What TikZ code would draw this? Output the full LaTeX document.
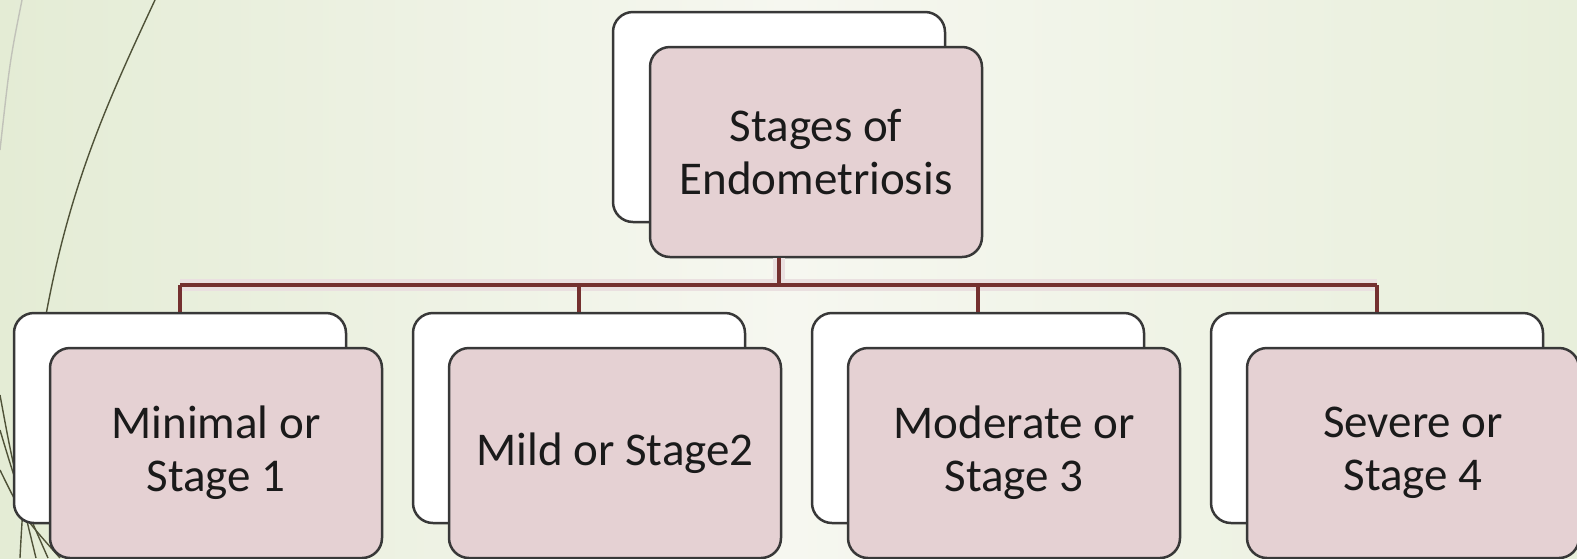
\documentclass[tikz,border=0pt]{standalone}
\usepackage{fontspec}
\usepackage{tikz}
\usetikzlibrary{positioning,calc}

\newfontfamily\carlito{Carlito}
\newcommand{\stagefont}{\carlito\fontsize{23.5pt}{26.5pt}\selectfont}

\definecolor{bgleft}{HTML}{E4ECD5}
\definecolor{bgmid}{HTML}{F6F7F0}
\definecolor{bgright}{HTML}{E8EFDB}
\definecolor{boxpink}{HTML}{E5D1D3}
\definecolor{boxline}{HTML}{383838}
\definecolor{treered}{HTML}{74302F}
\definecolor{wispline}{HTML}{4F5238}
\definecolor{textdark}{HTML}{1A1A1A}

\tikzset{
  backbox/.style={draw=boxline, line width=1.25pt, rounded corners=10pt, fill=white,
    minimum width=166pt, minimum height=105pt, inner sep=0pt},
  stagebox/.style={backbox, fill=boxpink, align=center, font=\stagefont, text=textdark},
  tree/.style={draw=treered, line width=1.8pt},
  treeglow/.style={draw=treered!15, line width=6pt},
  wisp/.style={draw=wispline, line width=0.7pt},
}

\begin{document}
\begin{tikzpicture}[x=0.5pt, y=-0.5pt]
  % background
  \shade[left color=bgleft, right color=bgright, middle color=bgmid] (0,0) rectangle (1577,558);
  \useasboundingbox (0,0) rectangle (1577,558);

  % wisps on the left
  \draw[wisp] (155,0) .. controls (85,150) and (35,260) .. (20,558);
  \draw[wisp, draw=wispline!35] (22,0) .. controls (10,60) .. (0,150);
  \draw[wisp] (0,395) .. controls (12,460) .. (36,558);
  \draw[wisp] (0,430) .. controls (18,490) .. (48,558);
  \draw[wisp] (0,470) .. controls (22,515) .. (60,558);

  % top box
  \node[backbox] (rootback) at (779,117) {};
  \node[stagebox] (root) at ([xshift=18.5pt,yshift=-17.5pt]rootback.center) {Stages of\\Endometriosis};

  % stage boxes
  \node[backbox] (s1back) at (180,418) {};
  \node[backbox] (s2back) at (579,418) {};
  \node[backbox] (s3back) at (978,418) {};
  \node[backbox] (s4back) at (1377,418) {};

  \coordinate (bar) at (0,285);
  \draw[treeglow] (rootback.south |- root.south) -- (rootback.south |- bar);
  \draw[treeglow] (s1back.north |- bar) -- (s4back.north |- bar);
  \draw[tree] (rootback.south |- root.south) -- (rootback.south |- bar);
  \draw[tree] (s1back.north |- bar) -- (s4back.north |- bar);
  \foreach \n in {1,...,4}
    \draw[tree] (s\n back.north |- bar) -- (s\n back.north);

  \node[stagebox] (s1) at ([xshift=18pt,yshift=-17.5pt]s1back.center) {Minimal or\\Stage 1};
  \node[stagebox] (s2) at ([xshift=18pt,yshift=-17.5pt]s2back.center) {Mild or Stage2};
  \node[stagebox] (s3) at ([xshift=18pt,yshift=-17.5pt]s3back.center) {Moderate or\\Stage 3};
  \node[stagebox] (s4) at ([xshift=18pt,yshift=-17.5pt]s4back.center) {Severe or\\Stage 4};
\end{tikzpicture}
\end{document}
